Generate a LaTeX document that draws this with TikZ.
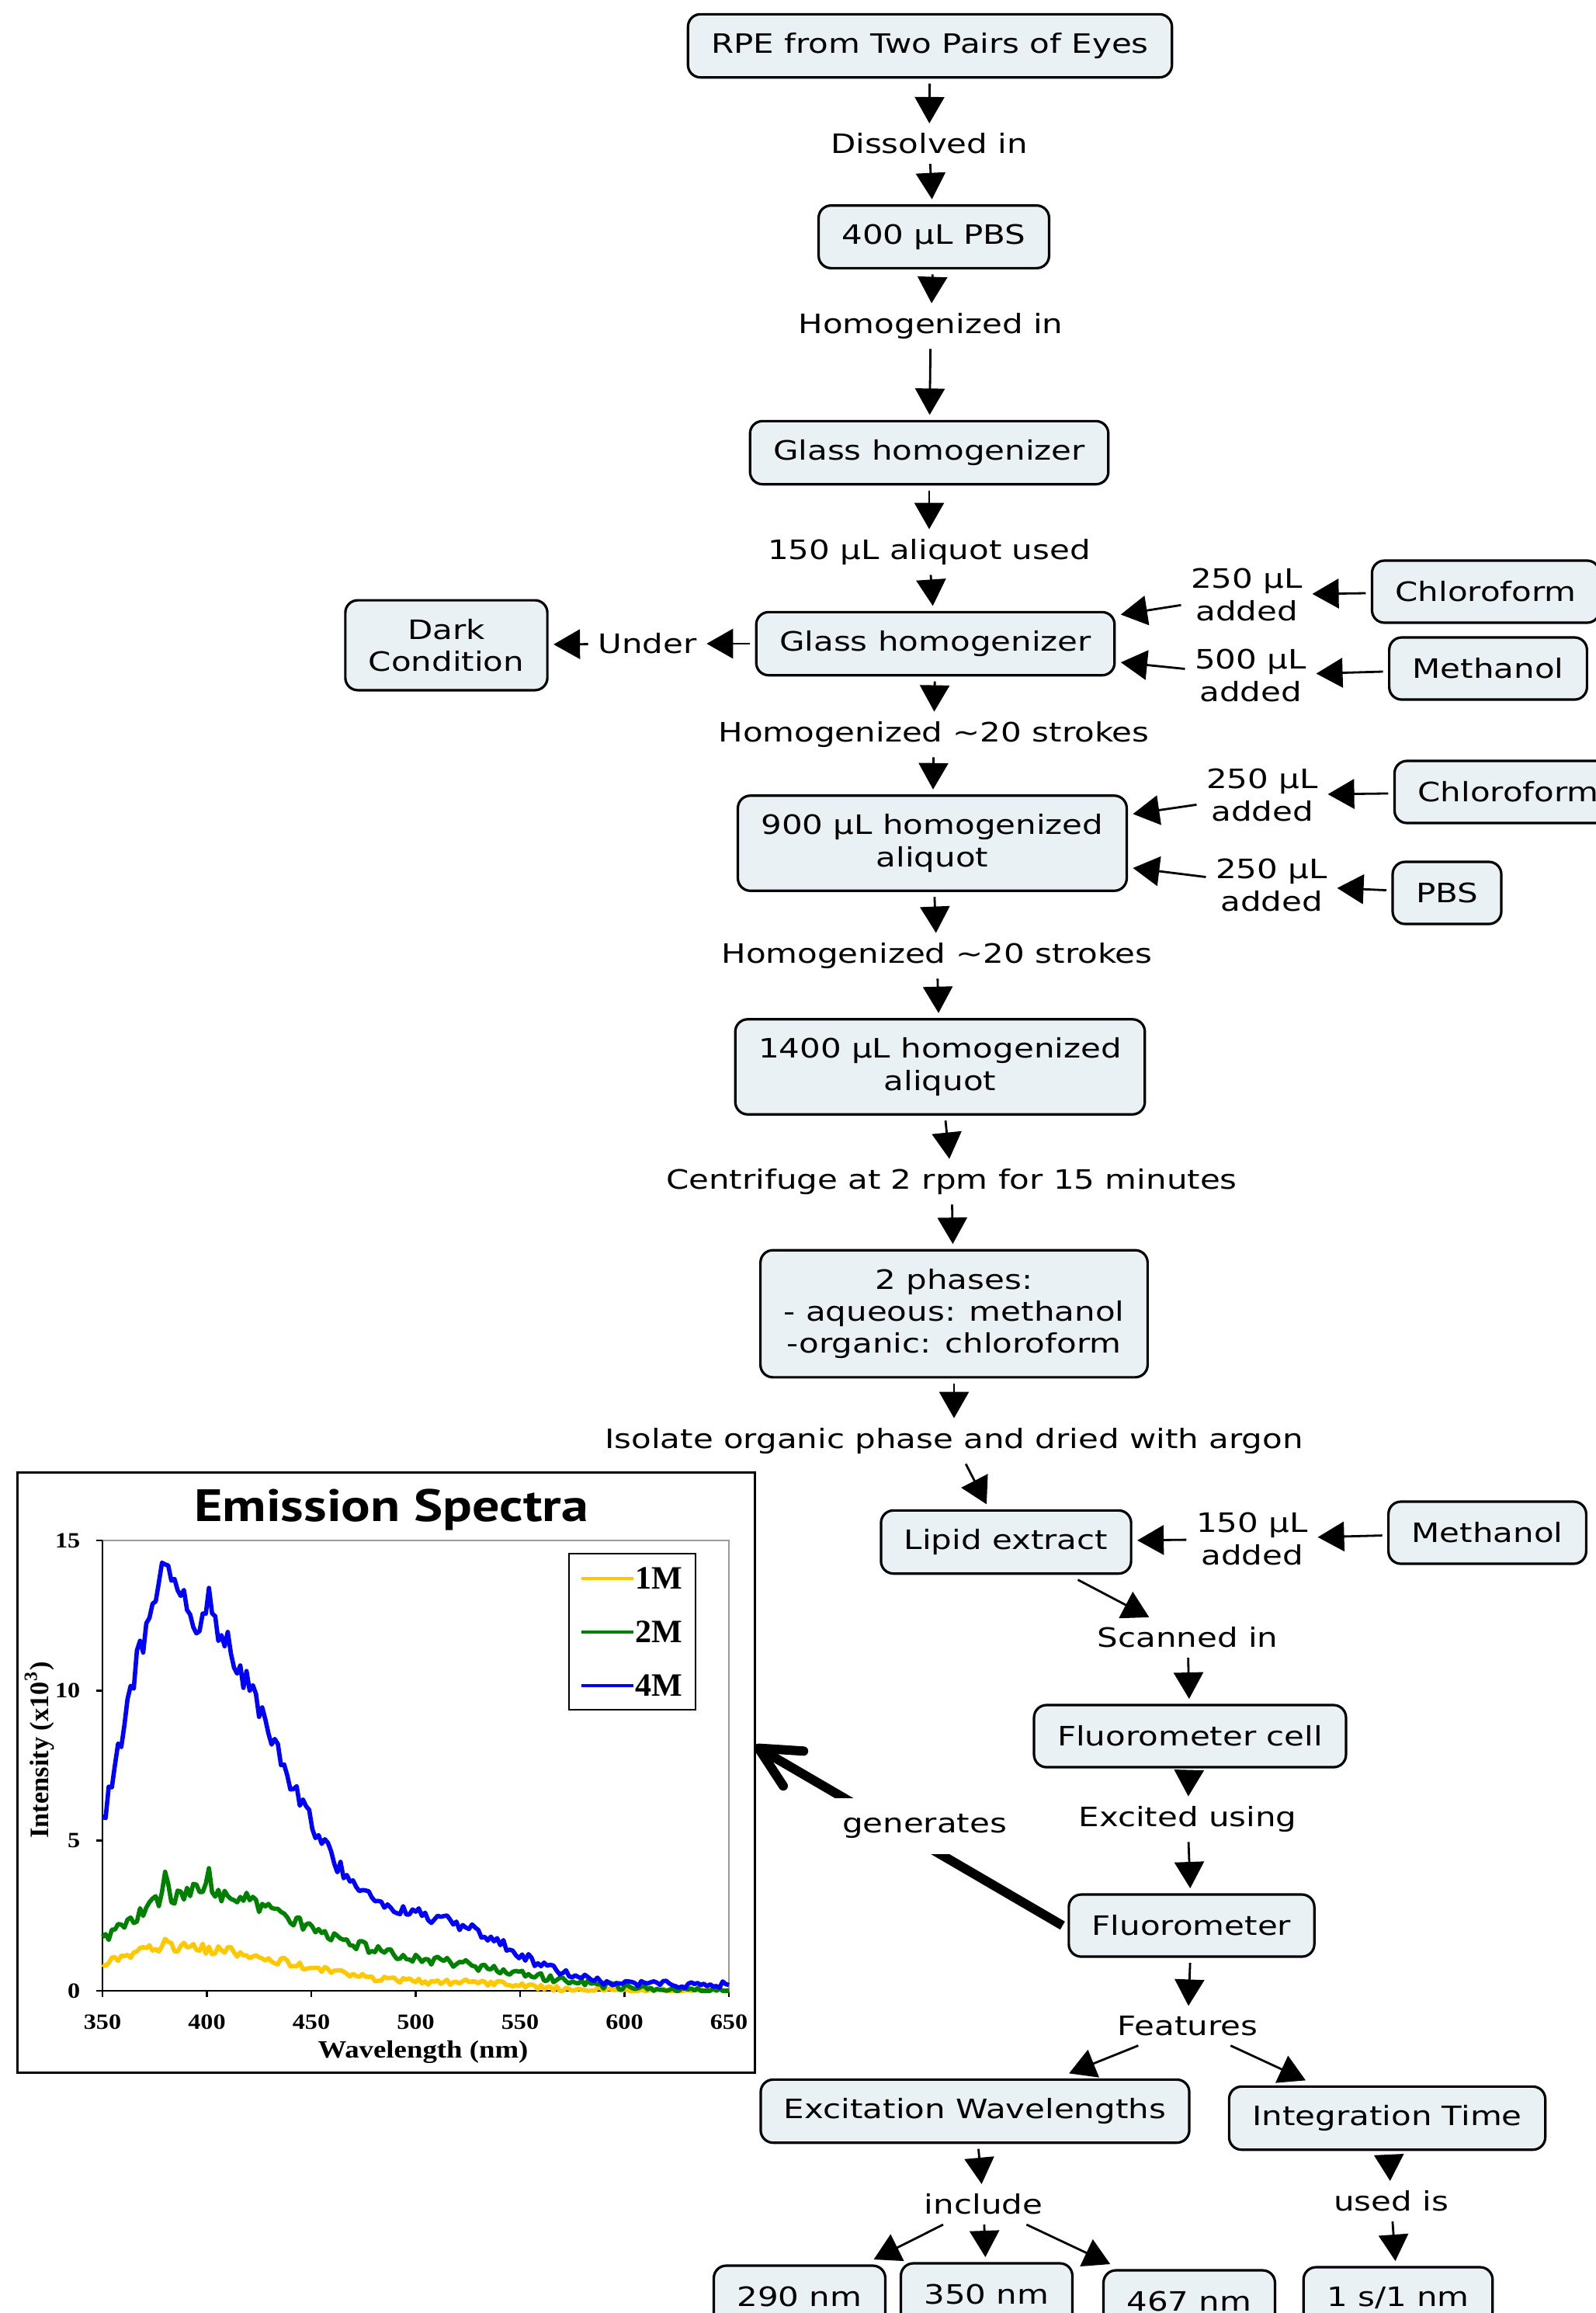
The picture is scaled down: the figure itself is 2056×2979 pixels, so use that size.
\documentclass[tikz,border=0pt]{standalone}
\usepackage{fontspec}
\setmainfont{DejaVu Sans}[FakeStretch=1.22]
\newfontfamily\serifS{Liberation Serif}[FakeStretch=1.15]
\newfontfamily\serifN{Liberation Serif}
\newfontfamily\titlefont{PT Sans}[FakeStretch=1.2]
\usetikzlibrary{arrows.meta,calc}
\definecolor{boxfill}{RGB}{234,241,244}
\definecolor{cyel}{RGB}{255,200,0}
\definecolor{cgrn}{RGB}{0,128,0}
\definecolor{cblu}{RGB}{0,0,255}
\tikzset{
  mainfont/.style={font={\fontsize{8.6pt}{10.3pt}\selectfont}},
  concept/.style={mainfont, draw, line width=0.8pt, rounded corners=4pt, fill=boxfill,
    inner xsep=7.5pt, inner ysep=6pt, minimum height=20pt, align=center, outer sep=2pt},
  linklab/.style={mainfont, inner sep=3pt, align=center},
  arr/.style={line width=0.7pt, -{Triangle[length=8.5pt,width=9.5pt]}},
  genarr/.style={line width=3pt, -{Straight Barb[length=13pt,width=13pt,round]}},
  spec/.style={line width=1.4pt, line join=round},
  numlab/.style={font={\serifS\bfseries\fontsize{7pt}{8pt}\selectfont}, inner sep=0pt},
}
\begin{document}
\begin{tikzpicture}[x=0.25pt,y=-0.25pt]
\useasboundingbox (0,0) rectangle (2056,2979);
\clip (0,0) rectangle (2056,2979);

% ---------- concept boxes ----------
\node[concept] (rpe) at (1198,59) {RPE from Two Pairs of Eyes};
\node[concept] (pbs400) at (1203,305) {400 μL PBS};
\node[concept] (glass1) at (1197,583) {Glass homogenizer};
\node[concept] (glass2) at (1205,829) {Glass homogenizer};
\node[concept] (dark) at (575,831) {Dark\\Condition};
\node[concept] (chl1) at (1914,762) {Chloroform};
\node[concept] (meth1) at (1917,861) {Methanol};
\node[concept] (h900) at (1201,1086) {900 μL homogenized\\aliquot};
\node[concept] (chl2) at (1943,1020) {Chloroform};
\node[concept] (pbsb) at (1864,1150) {PBS};
\node[concept] (h1400) at (1211,1374) {1400 µL homogenized\\aliquot};
\node[concept] (phases) at (1229,1692) {2 phases:\\- aqueous: methanol\\-organic: chloroform};
\node[concept] (lipid) at (1296,1986) {Lipid extract};
\node[concept] (meth2) at (1916,1974) {Methanol};
\node[concept] (fcell) at (1533,2236) {Fluorometer cell};
\node[concept] (fluor) at (1535,2480) {Fluorometer};
\node[concept] (excw) at (1256,2719) {Excitation Wavelengths};
\node[concept] (intt) at (1787,2728) {Integration Time};
\node[concept] (n290) at (1030,2958) {290 nm};
\node[concept] (n350) at (1271,2955) {350 nm};
\node[concept] (n467) at (1532,2964) {467 nm};
\node[concept] (n1s) at (1801,2960) {1 s/1 nm};

% ---------- link labels ----------
\node[linklab] (dis) at (1197,185) {Dissolved in};
\node[linklab] (homin) at (1199,420) {Homogenized in};
\node[linklab] (al150) at (1197,711) {150 μL aliquot used};
\node[linklab] (under) at (834,829) {Under};
\node[linklab] (a250a) at (1606,766) {250 μL\\added};
\node[linklab] (a500) at (1611,870) {500 μL\\added};
\node[linklab] (hs1) at (1203,946) {Homogenized \textasciitilde20 strokes};
\node[linklab] (a250b) at (1626,1024) {250 μL\\added};
\node[linklab] (a250c) at (1638,1140) {250 μL\\added};
\node[linklab] (hs2) at (1207,1231) {Homogenized \textasciitilde20 strokes};
\node[linklab] (cent) at (1226,1522) {Centrifuge at 2 rpm for 15 minutes};
\node[linklab] (iso) at (1229,1856) {Isolate organic phase and dried with argon};
\node[linklab] (a150) at (1613,1982) {150 µL\\added};
\node[linklab] (scan) at (1530,2109) {Scanned in};
\node[linklab] (exc) at (1530,2343) {Excited using};
\node[linklab] (feat) at (1530,2609) {Features};
\node[linklab] (incl) at (1267,2839) {include};
\node[linklab] (used) at (1792,2835) {used is};

% ---------- connectors ----------
\draw[arr] (rpe) -- (dis);
\draw[arr] (dis) -- (pbs400);
\draw[arr] (pbs400) -- (homin);
\draw[arr] (homin) -- (glass1);
\draw[arr] (glass1) -- (al150);
\draw[arr] (al150) -- (glass2);
\draw[arr] (glass2) -- (under);
\draw[arr] (under) -- (dark);
\draw[arr] (chl1) -- (a250a);
\draw[arr] (a250a) -- (glass2);
\draw[arr] (meth1) -- (a500);
\draw[arr] (a500) -- (glass2);
\draw[arr] (glass2) -- (hs1);
\draw[arr] (hs1) -- (h900);
\draw[arr] (chl2) -- (a250b);
\draw[arr] (a250b) -- (h900);
\draw[arr] (pbsb) -- (a250c);
\draw[arr] (a250c) -- (h900);
\draw[arr] (h900) -- (hs2);
\draw[arr] (hs2) -- (h1400);
\draw[arr] (h1400) -- (cent);
\draw[arr] (cent) -- (phases);
\draw[arr] (phases) -- (iso);
\draw[arr] (iso) -- (lipid);
\draw[arr] (meth2) -- (a150);
\draw[arr] (a150) -- (lipid);
\draw[arr] (lipid) -- (scan);
\draw[arr] (scan) -- (fcell);
\draw[arr] (fcell) -- (exc);
\draw[arr] (exc) -- (fluor);
\draw[arr] (fluor) -- (feat);
\draw[arr] (feat) -- (excw);
\draw[arr] (feat) -- (intt);
\draw[arr] (excw) -- (incl);
\draw[arr] (intt) -- (used);
\draw[arr] (incl) -- (n290);
\draw[arr] (incl) -- (n350);
\draw[arr] (incl) -- (n467);
\draw[arr] (used) -- (n1s);

% ---------- chart ----------
\node[draw, line width=0.75pt, minimum width=237.5pt, minimum height=193.25pt,
      inner sep=0pt, outer sep=0pt] (chart) at (497,2282.5) {};
\node[font={\titlefont\bfseries\fontsize{14.6pt}{16pt}\selectfont}, inner sep=0pt]
      (title) at (504,1944) {Emission Spectra};
% plot area
\draw[black!40, line width=0.5pt] (132,1984) -- (939,1984) -- (939,2564);
\draw[line width=0.6pt] (132,1984) -- (132,2564) -- (939,2564);
\foreach \v in {0,5,10,15} {
  \draw[line width=0.6pt] (124,{2564-38.667*\v}) -- (132,{2564-38.667*\v});
  \node[numlab, anchor=east] (yt\v) at (104,{2564-38.667*\v}) {\v};
}
\foreach \v in {350,400,...,650} {
  \draw[line width=0.6pt] ({132+2.69*(\v-350)},2564) -- ({132+2.69*(\v-350)},2572);
  \node[numlab] (xt\v) at ({132+2.69*(\v-350)},2604) {\v};
}
\node[font={\serifS\bfseries\fontsize{8pt}{9pt}\selectfont}, inner sep=0pt]
      (wlab) at (545,2643) {Wavelength (nm)};
\node[font={\serifN\bfseries\fontsize{8.6pt}{10pt}\selectfont}, inner sep=0pt, rotate=90]
      (ilab) at (51,2254) {Intensity (x10\textsuperscript{3})};

\begin{scope}[declare function={
  gb(\w) = ((\w<383) ? 13.5*exp(-min(20,((\w-383)/34.5)^2)) : 13.3*exp(-min(20,((\w-383)/69)^2)) + 1.8*exp(-min(20,((\w-515)/45)^2))) + 0.2 - 1.6*max(0,1-abs(\w-394)/6) + 0.3*max(0,1-abs(\w-401)/3) + 0.8*max(0,1-abs(\w-380)/2);
  gg(\w) = ((\w<395) ? 3.3*exp(-min(20,((\w-395)/55)^2)) : 3.3*exp(-min(20,((\w-395)/75)^2)) + 0.7*exp(-min(20,((\w-520)/60)^2))) + 0.9*max(0,1-abs(\w-380)/2) + 0.5*max(0,1-abs(\w-401)/2);
  gy(\w) = ((\w<383) ? 1.45*exp(-min(20,((\w-383)/45)^2)) : 1.45*exp(-min(20,((\w-383)/85)^2)) + 0.2*exp(-min(20,((\w-530)/35)^2))) + 0.25*max(0,1-abs(\w-381)/2);
}]
\pgfmathsetseed{7}
\draw[spec, cyel] plot[domain=350:650, samples=201, variable=\w]
  ({132+2.69*(\w-350)}, {2564-38.667*max(0, gy(\w)+(0.08+0.06*gy(\w))*rand)});
\draw[spec, cgrn] plot[domain=350:650, samples=201, variable=\w]
  ({132+2.69*(\w-350)}, {2564-38.667*max(0, gg(\w)+(0.1+0.06*gg(\w))*rand)});
\draw[spec, cblu] plot[domain=350:650, samples=201, variable=\w]
  ({132+2.69*(\w-350)}, {2564-38.667*max(0, gb(\w)+(0.12+0.035*gb(\w))*rand)});
\end{scope}

% legend
\node[draw, line width=0.5pt, fill=white, minimum width=40.75pt, minimum height=50.25pt,
      inner sep=0pt] (legend) at (814.5,2101.5) {};
\draw[line width=1.2pt, cyel] (749,2033) -- (816,2033);
\draw[line width=1.2pt, cgrn] (749,2102) -- (816,2102);
\draw[line width=1.2pt, cblu] (749,2171) -- (816,2171);
\node[font={\serifN\bfseries\fontsize{10.5pt}{12pt}\selectfont}, anchor=west, inner sep=0pt]
      (lg1) at (818,2033) {1M};
\node[font={\serifN\bfseries\fontsize{10.5pt}{12pt}\selectfont}, anchor=west, inner sep=0pt]
      (lg2) at (818,2102) {2M};
\node[font={\serifN\bfseries\fontsize{10.5pt}{12pt}\selectfont}, anchor=west, inner sep=0pt]
      (lg4) at (818,2171) {4M};

% generates arrow
\draw[genarr] (fluor.west) -- ($(chart.east)+(0,-34)$);
\node[mainfont, fill=white, inner xsep=6pt, inner ysep=5pt] (gen) at (1191,2352) {generates};
\end{tikzpicture}
\end{document}
